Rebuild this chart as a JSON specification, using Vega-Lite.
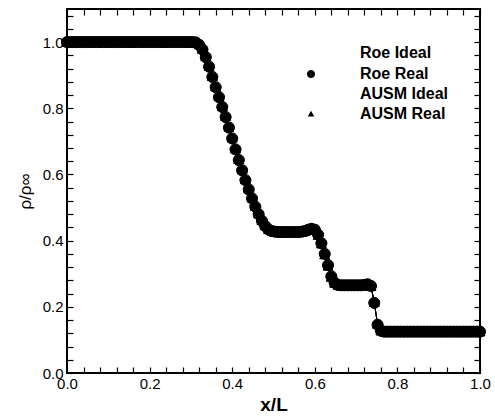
{
  "$schema": "https://vega.github.io/schema/vega-lite/v6.json",
  "width": 413,
  "height": 364,
  "autosize": {"type": "none"},
  "padding": {"left": 67, "top": 9, "right": 15, "bottom": 43},
  "background": "white",
  "config": {
    "view": {"stroke": "black", "strokeWidth": 2},
    "font": "Liberation Sans",
    "axis": {
      "zindex": 1,
      "domain": false,
      "grid": false,
      "ticks": true,
      "tickSize": 6,
      "tickColor": "black",
      "tickWidth": 1.2,
      "labelFont": "Liberation Sans",
      "labelFontSize": 15,
      "labelColor": "black",
      "labelOverlap": false,
      "labelFlush": false,
      "titleColor": "black",
      "titleFont": "Liberation Sans"
    }
  },
  "data": {
    "values": [
      {"x": 0, "Roe Ideal": 1, "Roe Real": 1, "AUSM Ideal": 1, "AUSM Real": 1},
      {"x": 0.008, "Roe Ideal": 1, "Roe Real": 1, "AUSM Ideal": 1, "AUSM Real": 1},
      {"x": 0.016, "Roe Ideal": 1, "Roe Real": 1, "AUSM Ideal": 1, "AUSM Real": 1},
      {"x": 0.024, "Roe Ideal": 1, "Roe Real": 1, "AUSM Ideal": 1, "AUSM Real": 1},
      {"x": 0.032, "Roe Ideal": 1, "Roe Real": 1, "AUSM Ideal": 1, "AUSM Real": 1},
      {"x": 0.04, "Roe Ideal": 1, "Roe Real": 1, "AUSM Ideal": 1, "AUSM Real": 1},
      {"x": 0.048, "Roe Ideal": 1, "Roe Real": 1, "AUSM Ideal": 1, "AUSM Real": 1},
      {"x": 0.056, "Roe Ideal": 1, "Roe Real": 1, "AUSM Ideal": 1, "AUSM Real": 1},
      {"x": 0.064, "Roe Ideal": 1, "Roe Real": 1, "AUSM Ideal": 1, "AUSM Real": 1},
      {"x": 0.072, "Roe Ideal": 1, "Roe Real": 1, "AUSM Ideal": 1, "AUSM Real": 1},
      {"x": 0.08, "Roe Ideal": 1, "Roe Real": 1, "AUSM Ideal": 1, "AUSM Real": 1},
      {"x": 0.088, "Roe Ideal": 1, "Roe Real": 1, "AUSM Ideal": 1, "AUSM Real": 1},
      {"x": 0.096, "Roe Ideal": 1, "Roe Real": 1, "AUSM Ideal": 1, "AUSM Real": 1},
      {"x": 0.104, "Roe Ideal": 1, "Roe Real": 1, "AUSM Ideal": 1, "AUSM Real": 1},
      {"x": 0.112, "Roe Ideal": 1, "Roe Real": 1, "AUSM Ideal": 1, "AUSM Real": 1},
      {"x": 0.12, "Roe Ideal": 1, "Roe Real": 1, "AUSM Ideal": 1, "AUSM Real": 1},
      {"x": 0.128, "Roe Ideal": 1, "Roe Real": 1, "AUSM Ideal": 1, "AUSM Real": 1},
      {"x": 0.136, "Roe Ideal": 1, "Roe Real": 1, "AUSM Ideal": 1, "AUSM Real": 1},
      {"x": 0.144, "Roe Ideal": 1, "Roe Real": 1, "AUSM Ideal": 1, "AUSM Real": 1},
      {"x": 0.152, "Roe Ideal": 1, "Roe Real": 1, "AUSM Ideal": 1, "AUSM Real": 1},
      {"x": 0.16, "Roe Ideal": 1, "Roe Real": 1, "AUSM Ideal": 1, "AUSM Real": 1},
      {"x": 0.168, "Roe Ideal": 1, "Roe Real": 1, "AUSM Ideal": 1, "AUSM Real": 1},
      {"x": 0.176, "Roe Ideal": 1, "Roe Real": 1, "AUSM Ideal": 1, "AUSM Real": 1},
      {"x": 0.184, "Roe Ideal": 1, "Roe Real": 1, "AUSM Ideal": 1, "AUSM Real": 1},
      {"x": 0.192, "Roe Ideal": 1, "Roe Real": 1, "AUSM Ideal": 1, "AUSM Real": 1},
      {"x": 0.2, "Roe Ideal": 1, "Roe Real": 1, "AUSM Ideal": 1, "AUSM Real": 1},
      {"x": 0.208, "Roe Ideal": 1, "Roe Real": 1, "AUSM Ideal": 1, "AUSM Real": 1},
      {"x": 0.216, "Roe Ideal": 1, "Roe Real": 1, "AUSM Ideal": 1, "AUSM Real": 1},
      {"x": 0.224, "Roe Ideal": 1, "Roe Real": 1, "AUSM Ideal": 1, "AUSM Real": 1},
      {"x": 0.232, "Roe Ideal": 1, "Roe Real": 1, "AUSM Ideal": 1, "AUSM Real": 1},
      {"x": 0.24, "Roe Ideal": 1, "Roe Real": 1, "AUSM Ideal": 1, "AUSM Real": 1},
      {"x": 0.248, "Roe Ideal": 1, "Roe Real": 1, "AUSM Ideal": 1, "AUSM Real": 1},
      {"x": 0.256, "Roe Ideal": 1, "Roe Real": 1, "AUSM Ideal": 1, "AUSM Real": 1},
      {"x": 0.264, "Roe Ideal": 1, "Roe Real": 1, "AUSM Ideal": 1, "AUSM Real": 1},
      {"x": 0.272, "Roe Ideal": 1, "Roe Real": 1, "AUSM Ideal": 1, "AUSM Real": 1},
      {"x": 0.28, "Roe Ideal": 1, "Roe Real": 1, "AUSM Ideal": 1, "AUSM Real": 1},
      {"x": 0.288, "Roe Ideal": 1, "Roe Real": 1, "AUSM Ideal": 1, "AUSM Real": 1},
      {"x": 0.296, "Roe Ideal": 1, "Roe Real": 1, "AUSM Ideal": 1, "AUSM Real": 1},
      {"x": 0.304, "Roe Ideal": 1, "Roe Real": 1, "AUSM Ideal": 1, "AUSM Real": 1},
      {"x": 0.312, "Roe Ideal": 0.999, "Roe Real": 0.999, "AUSM Ideal": 1, "AUSM Real": 1},
      {"x": 0.32, "Roe Ideal": 0.992, "Roe Real": 0.991, "AUSM Ideal": 0.993, "AUSM Real": 0.992},
      {"x": 0.328, "Roe Ideal": 0.978, "Roe Real": 0.977, "AUSM Ideal": 0.979, "AUSM Real": 0.978},
      {"x": 0.336, "Roe Ideal": 0.955, "Roe Real": 0.954, "AUSM Ideal": 0.957, "AUSM Real": 0.956},
      {"x": 0.344, "Roe Ideal": 0.926, "Roe Real": 0.925, "AUSM Ideal": 0.928, "AUSM Real": 0.927},
      {"x": 0.352, "Roe Ideal": 0.895, "Roe Real": 0.894, "AUSM Ideal": 0.897, "AUSM Real": 0.896},
      {"x": 0.36, "Roe Ideal": 0.864, "Roe Real": 0.863, "AUSM Ideal": 0.866, "AUSM Real": 0.865},
      {"x": 0.368, "Roe Ideal": 0.834, "Roe Real": 0.833, "AUSM Ideal": 0.836, "AUSM Real": 0.835},
      {"x": 0.376, "Roe Ideal": 0.804, "Roe Real": 0.803, "AUSM Ideal": 0.806, "AUSM Real": 0.805},
      {"x": 0.384, "Roe Ideal": 0.774, "Roe Real": 0.773, "AUSM Ideal": 0.776, "AUSM Real": 0.775},
      {"x": 0.392, "Roe Ideal": 0.742, "Roe Real": 0.741, "AUSM Ideal": 0.744, "AUSM Real": 0.743},
      {"x": 0.4, "Roe Ideal": 0.709, "Roe Real": 0.708, "AUSM Ideal": 0.711, "AUSM Real": 0.71},
      {"x": 0.408, "Roe Ideal": 0.676, "Roe Real": 0.675, "AUSM Ideal": 0.678, "AUSM Real": 0.677},
      {"x": 0.416, "Roe Ideal": 0.644, "Roe Real": 0.643, "AUSM Ideal": 0.646, "AUSM Real": 0.645},
      {"x": 0.424, "Roe Ideal": 0.613, "Roe Real": 0.612, "AUSM Ideal": 0.615, "AUSM Real": 0.614},
      {"x": 0.432, "Roe Ideal": 0.583, "Roe Real": 0.582, "AUSM Ideal": 0.585, "AUSM Real": 0.584},
      {"x": 0.44, "Roe Ideal": 0.555, "Roe Real": 0.554, "AUSM Ideal": 0.557, "AUSM Real": 0.556},
      {"x": 0.448, "Roe Ideal": 0.528, "Roe Real": 0.527, "AUSM Ideal": 0.53, "AUSM Real": 0.529},
      {"x": 0.456, "Roe Ideal": 0.503, "Roe Real": 0.502, "AUSM Ideal": 0.505, "AUSM Real": 0.504},
      {"x": 0.464, "Roe Ideal": 0.48, "Roe Real": 0.479, "AUSM Ideal": 0.482, "AUSM Real": 0.481},
      {"x": 0.472, "Roe Ideal": 0.46, "Roe Real": 0.459, "AUSM Ideal": 0.462, "AUSM Real": 0.461},
      {"x": 0.48, "Roe Ideal": 0.444, "Roe Real": 0.443, "AUSM Ideal": 0.446, "AUSM Real": 0.445},
      {"x": 0.488, "Roe Ideal": 0.434, "Roe Real": 0.433, "AUSM Ideal": 0.435, "AUSM Real": 0.434},
      {"x": 0.496, "Roe Ideal": 0.429, "Roe Real": 0.428, "AUSM Ideal": 0.43, "AUSM Real": 0.429},
      {"x": 0.504, "Roe Ideal": 0.427, "Roe Real": 0.427, "AUSM Ideal": 0.427, "AUSM Real": 0.427},
      {"x": 0.512, "Roe Ideal": 0.426, "Roe Real": 0.426, "AUSM Ideal": 0.426, "AUSM Real": 0.426},
      {"x": 0.52, "Roe Ideal": 0.426, "Roe Real": 0.426, "AUSM Ideal": 0.426, "AUSM Real": 0.426},
      {"x": 0.528, "Roe Ideal": 0.426, "Roe Real": 0.426, "AUSM Ideal": 0.426, "AUSM Real": 0.426},
      {"x": 0.536, "Roe Ideal": 0.426, "Roe Real": 0.426, "AUSM Ideal": 0.426, "AUSM Real": 0.426},
      {"x": 0.544, "Roe Ideal": 0.426, "Roe Real": 0.426, "AUSM Ideal": 0.426, "AUSM Real": 0.426},
      {"x": 0.552, "Roe Ideal": 0.426, "Roe Real": 0.426, "AUSM Ideal": 0.426, "AUSM Real": 0.426},
      {"x": 0.56, "Roe Ideal": 0.426, "Roe Real": 0.426, "AUSM Ideal": 0.426, "AUSM Real": 0.426},
      {"x": 0.568, "Roe Ideal": 0.427, "Roe Real": 0.427, "AUSM Ideal": 0.427, "AUSM Real": 0.427},
      {"x": 0.576, "Roe Ideal": 0.429, "Roe Real": 0.429, "AUSM Ideal": 0.428, "AUSM Real": 0.428},
      {"x": 0.584, "Roe Ideal": 0.433, "Roe Real": 0.433, "AUSM Ideal": 0.432, "AUSM Real": 0.432},
      {"x": 0.592, "Roe Ideal": 0.436, "Roe Real": 0.436, "AUSM Ideal": 0.435, "AUSM Real": 0.435},
      {"x": 0.6, "Roe Ideal": 0.433, "Roe Real": 0.433, "AUSM Ideal": 0.432, "AUSM Real": 0.432},
      {"x": 0.608, "Roe Ideal": 0.418, "Roe Real": 0.418, "AUSM Ideal": 0.417, "AUSM Real": 0.417},
      {"x": 0.616, "Roe Ideal": 0.392, "Roe Real": 0.392, "AUSM Ideal": 0.391, "AUSM Real": 0.391},
      {"x": 0.624, "Roe Ideal": 0.36, "Roe Real": 0.36, "AUSM Ideal": 0.358, "AUSM Real": 0.358},
      {"x": 0.632, "Roe Ideal": 0.326, "Roe Real": 0.326, "AUSM Ideal": 0.324, "AUSM Real": 0.324},
      {"x": 0.64, "Roe Ideal": 0.292, "Roe Real": 0.292, "AUSM Ideal": 0.29, "AUSM Real": 0.29},
      {"x": 0.648, "Roe Ideal": 0.273, "Roe Real": 0.273, "AUSM Ideal": 0.272, "AUSM Real": 0.272},
      {"x": 0.656, "Roe Ideal": 0.266, "Roe Real": 0.266, "AUSM Ideal": 0.266, "AUSM Real": 0.266},
      {"x": 0.664, "Roe Ideal": 0.265, "Roe Real": 0.265, "AUSM Ideal": 0.265, "AUSM Real": 0.265},
      {"x": 0.672, "Roe Ideal": 0.265, "Roe Real": 0.265, "AUSM Ideal": 0.265, "AUSM Real": 0.265},
      {"x": 0.68, "Roe Ideal": 0.265, "Roe Real": 0.265, "AUSM Ideal": 0.265, "AUSM Real": 0.265},
      {"x": 0.688, "Roe Ideal": 0.265, "Roe Real": 0.265, "AUSM Ideal": 0.265, "AUSM Real": 0.265},
      {"x": 0.696, "Roe Ideal": 0.265, "Roe Real": 0.265, "AUSM Ideal": 0.265, "AUSM Real": 0.265},
      {"x": 0.704, "Roe Ideal": 0.265, "Roe Real": 0.265, "AUSM Ideal": 0.265, "AUSM Real": 0.265},
      {"x": 0.712, "Roe Ideal": 0.265, "Roe Real": 0.265, "AUSM Ideal": 0.265, "AUSM Real": 0.265},
      {"x": 0.72, "Roe Ideal": 0.266, "Roe Real": 0.266, "AUSM Ideal": 0.266, "AUSM Real": 0.266},
      {"x": 0.728, "Roe Ideal": 0.268, "Roe Real": 0.268, "AUSM Ideal": 0.268, "AUSM Real": 0.268},
      {"x": 0.736, "Roe Ideal": 0.263, "Roe Real": 0.263, "AUSM Ideal": 0.262, "AUSM Real": 0.262},
      {"x": 0.744, "Roe Ideal": 0.212, "Roe Real": 0.212, "AUSM Ideal": 0.214, "AUSM Real": 0.214},
      {"x": 0.752, "Roe Ideal": 0.146, "Roe Real": 0.146, "AUSM Ideal": 0.148, "AUSM Real": 0.148},
      {"x": 0.76, "Roe Ideal": 0.128, "Roe Real": 0.128, "AUSM Ideal": 0.128, "AUSM Real": 0.128},
      {"x": 0.768, "Roe Ideal": 0.125, "Roe Real": 0.125, "AUSM Ideal": 0.125, "AUSM Real": 0.125},
      {"x": 0.776, "Roe Ideal": 0.125, "Roe Real": 0.125, "AUSM Ideal": 0.125, "AUSM Real": 0.125},
      {"x": 0.784, "Roe Ideal": 0.125, "Roe Real": 0.125, "AUSM Ideal": 0.125, "AUSM Real": 0.125},
      {"x": 0.792, "Roe Ideal": 0.125, "Roe Real": 0.125, "AUSM Ideal": 0.125, "AUSM Real": 0.125},
      {"x": 0.8, "Roe Ideal": 0.125, "Roe Real": 0.125, "AUSM Ideal": 0.125, "AUSM Real": 0.125},
      {"x": 0.808, "Roe Ideal": 0.125, "Roe Real": 0.125, "AUSM Ideal": 0.125, "AUSM Real": 0.125},
      {"x": 0.816, "Roe Ideal": 0.125, "Roe Real": 0.125, "AUSM Ideal": 0.125, "AUSM Real": 0.125},
      {"x": 0.824, "Roe Ideal": 0.125, "Roe Real": 0.125, "AUSM Ideal": 0.125, "AUSM Real": 0.125},
      {"x": 0.832, "Roe Ideal": 0.125, "Roe Real": 0.125, "AUSM Ideal": 0.125, "AUSM Real": 0.125},
      {"x": 0.84, "Roe Ideal": 0.125, "Roe Real": 0.125, "AUSM Ideal": 0.125, "AUSM Real": 0.125},
      {"x": 0.848, "Roe Ideal": 0.125, "Roe Real": 0.125, "AUSM Ideal": 0.125, "AUSM Real": 0.125},
      {"x": 0.856, "Roe Ideal": 0.125, "Roe Real": 0.125, "AUSM Ideal": 0.125, "AUSM Real": 0.125},
      {"x": 0.864, "Roe Ideal": 0.125, "Roe Real": 0.125, "AUSM Ideal": 0.125, "AUSM Real": 0.125},
      {"x": 0.872, "Roe Ideal": 0.125, "Roe Real": 0.125, "AUSM Ideal": 0.125, "AUSM Real": 0.125},
      {"x": 0.88, "Roe Ideal": 0.125, "Roe Real": 0.125, "AUSM Ideal": 0.125, "AUSM Real": 0.125},
      {"x": 0.888, "Roe Ideal": 0.125, "Roe Real": 0.125, "AUSM Ideal": 0.125, "AUSM Real": 0.125},
      {"x": 0.896, "Roe Ideal": 0.125, "Roe Real": 0.125, "AUSM Ideal": 0.125, "AUSM Real": 0.125},
      {"x": 0.904, "Roe Ideal": 0.125, "Roe Real": 0.125, "AUSM Ideal": 0.125, "AUSM Real": 0.125},
      {"x": 0.912, "Roe Ideal": 0.125, "Roe Real": 0.125, "AUSM Ideal": 0.125, "AUSM Real": 0.125},
      {"x": 0.92, "Roe Ideal": 0.125, "Roe Real": 0.125, "AUSM Ideal": 0.125, "AUSM Real": 0.125},
      {"x": 0.928, "Roe Ideal": 0.125, "Roe Real": 0.125, "AUSM Ideal": 0.125, "AUSM Real": 0.125},
      {"x": 0.936, "Roe Ideal": 0.125, "Roe Real": 0.125, "AUSM Ideal": 0.125, "AUSM Real": 0.125},
      {"x": 0.944, "Roe Ideal": 0.125, "Roe Real": 0.125, "AUSM Ideal": 0.125, "AUSM Real": 0.125},
      {"x": 0.952, "Roe Ideal": 0.125, "Roe Real": 0.125, "AUSM Ideal": 0.125, "AUSM Real": 0.125},
      {"x": 0.96, "Roe Ideal": 0.125, "Roe Real": 0.125, "AUSM Ideal": 0.125, "AUSM Real": 0.125},
      {"x": 0.968, "Roe Ideal": 0.125, "Roe Real": 0.125, "AUSM Ideal": 0.125, "AUSM Real": 0.125},
      {"x": 0.976, "Roe Ideal": 0.125, "Roe Real": 0.125, "AUSM Ideal": 0.125, "AUSM Real": 0.125},
      {"x": 0.984, "Roe Ideal": 0.125, "Roe Real": 0.125, "AUSM Ideal": 0.125, "AUSM Real": 0.125},
      {"x": 0.992, "Roe Ideal": 0.125, "Roe Real": 0.125, "AUSM Ideal": 0.125, "AUSM Real": 0.125},
      {"x": 1, "Roe Ideal": 0.125, "Roe Real": 0.125, "AUSM Ideal": 0.125, "AUSM Real": 0.125}
    ]
  },
  "transform": [
    {"fold": ["Roe Ideal", "Roe Real", "AUSM Ideal", "AUSM Real"], "as": ["series", "rho"]}
  ],
  "resolve": {
    "axis": {"x": "independent", "y": "independent"},
    "scale": {"shape": "independent", "fill": "independent"}
  },
  "layer": [
    {
      "mark": {"type": "line", "color": "black", "strokeWidth": 1},
      "encoding": {
        "x": {
          "field": "x", "type": "quantitative",
          "scale": {"domain": [0, 1], "nice": false, "zero": false},
          "axis": {
            "orient": "bottom",
            "offset": -6,
            "values": [0, 0.04, 0.08, 0.12, 0.16, 0.2, 0.24, 0.28, 0.32, 0.36, 0.4, 0.44, 0.48, 0.52, 0.56, 0.6, 0.64, 0.68, 0.72, 0.76, 0.8, 0.84, 0.88, 0.92, 0.96, 1],
            "labelExpr": "abs(datum.value*5 - round(datum.value*5)) < 0.001 ? format(datum.value, '.1f') : ''",
            "labelPadding": 3,
            "title": "x/L",
            "titleFontSize": 19,
            "titleFontWeight": "bold",
            "titlePadding": 4
          }
        },
        "y": {
          "field": "rho", "type": "quantitative",
          "scale": {"domain": [0, 1.1], "nice": false, "zero": false},
          "axis": {
            "orient": "left",
            "offset": -6,
            "values": [0, 0.04, 0.08, 0.12, 0.16, 0.2, 0.24, 0.28, 0.32, 0.36, 0.4, 0.44, 0.48, 0.52, 0.56, 0.6, 0.64, 0.68, 0.72, 0.76, 0.8, 0.84, 0.88, 0.92, 0.96, 1, 1.04, 1.08],
            "labelExpr": "abs(datum.value*5 - round(datum.value*5)) < 0.001 ? format(datum.value, '.1f') : ''",
            "labelPadding": 4,
            "title": "ρ/ρ∞",
            "titleFontSize": 17,
            "titleFontWeight": "normal",
            "titlePadding": 8
          }
        },
        "detail": {"field": "series", "type": "nominal"}
      }
    },
    {
      "mark": {"type": "point", "filled": true, "opacity": 1, "stroke": "black", "strokeWidth": 1},
      "encoding": {
        "x": {
          "field": "x", "type": "quantitative",
          "scale": {"domain": [0, 1], "nice": false, "zero": false},
          "axis": {
            "orient": "top",
            "offset": -6,
            "values": [0, 0.04, 0.08, 0.12, 0.16, 0.2, 0.24, 0.28, 0.32, 0.36, 0.4, 0.44, 0.48, 0.52, 0.56, 0.6, 0.64, 0.68, 0.72, 0.76, 0.8, 0.84, 0.88, 0.92, 0.96, 1],
            "labels": false,
            "title": null
          }
        },
        "y": {
          "field": "rho", "type": "quantitative",
          "scale": {"domain": [0, 1.1], "nice": false, "zero": false},
          "axis": {
            "orient": "right",
            "offset": -6,
            "values": [0, 0.04, 0.08, 0.12, 0.16, 0.2, 0.24, 0.28, 0.32, 0.36, 0.4, 0.44, 0.48, 0.52, 0.56, 0.6, 0.64, 0.68, 0.72, 0.76, 0.8, 0.84, 0.88, 0.92, 0.96, 1, 1.04, 1.08],
            "labels": false,
            "title": null
          }
        },
        "shape": {
          "field": "series", "type": "nominal",
          "scale": {"domain": ["Roe Ideal", "Roe Real", "AUSM Ideal", "AUSM Real"], "range": ["circle", "circle", "triangle-up", "triangle-up"]},
          "legend": null
        },
        "fill": {
          "field": "series", "type": "nominal",
          "scale": {"domain": ["Roe Ideal", "Roe Real", "AUSM Ideal", "AUSM Real"], "range": ["transparent", "black", "transparent", "black"]},
          "legend": null
        },
        "size": {
          "field": "series", "type": "nominal",
          "scale": {"domain": ["Roe Ideal", "Roe Real", "AUSM Ideal", "AUSM Real"], "range": [121, 85, 95, 50]},
          "legend": null
        }
      }
    },
    {
      "transform": [{"filter": "datum.x > 2"}],
      "mark": {"type": "point", "filled": false, "opacity": 1, "strokeWidth": 1},
      "encoding": {
        "shape": {
          "field": "series", "type": "nominal",
          "scale": {"domain": ["Roe Ideal", "Roe Real", "AUSM Ideal", "AUSM Real"], "range": [
            "M-6,0H-1.05A1.05,1.05 0 1,1 1.05,0A1.05,1.05 0 1,1 -1.05,0M1.05,0H6",
            "M-6,0H6M-0.68,0A0.68,0.68 0 1,1 0.68,0A0.68,0.68 0 1,1 -0.68,0",
            "M-6,0H-0.43M0.43,0H6M0,-0.78L0.78,0.55L-0.78,0.55Z",
            "M-6,0H6M0,-0.55L0.55,0.4L-0.55,0.4Z"
          ]},
          "legend": {
            "orient": "none", "legendX": 236, "legendY": 36, "title": null, "padding": 0,
            "labelFont": "Liberation Sans", "labelFontSize": 16, "labelFontWeight": "bold", "labelColor": "black",
            "labelOffset": 41, "rowPadding": 4,
            "symbolSize": 144, "symbolOpacity": 1, "symbolStrokeColor": "black", "symbolStrokeWidth": 1
          }
        },
        "fill": {
          "field": "series", "type": "nominal",
          "scale": {"domain": ["Roe Ideal", "Roe Real", "AUSM Ideal", "AUSM Real"], "range": ["white", "black", "white", "black"]},
          "legend": {
            "orient": "none", "legendX": 236, "legendY": 36, "title": null, "padding": 0,
            "labelFont": "Liberation Sans", "labelFontSize": 16, "labelFontWeight": "bold", "labelColor": "black",
            "labelOffset": 41, "rowPadding": 4,
            "symbolSize": 144, "symbolOpacity": 1, "symbolStrokeColor": "black", "symbolStrokeWidth": 1
          }
        },
        "stroke": {
          "field": "series", "type": "nominal",
          "scale": {"domain": ["Roe Ideal", "Roe Real", "AUSM Ideal", "AUSM Real"], "range": ["black", "black", "black", "black"]},
          "legend": {
            "orient": "none", "legendX": 236, "legendY": 36, "title": null, "padding": 0,
            "labelFont": "Liberation Sans", "labelFontSize": 16, "labelFontWeight": "bold", "labelColor": "black",
            "labelOffset": 41, "rowPadding": 4,
            "symbolSize": 144, "symbolOpacity": 1, "symbolStrokeColor": "black", "symbolStrokeWidth": 1
          }
        }
      }
    }
  ]
}
